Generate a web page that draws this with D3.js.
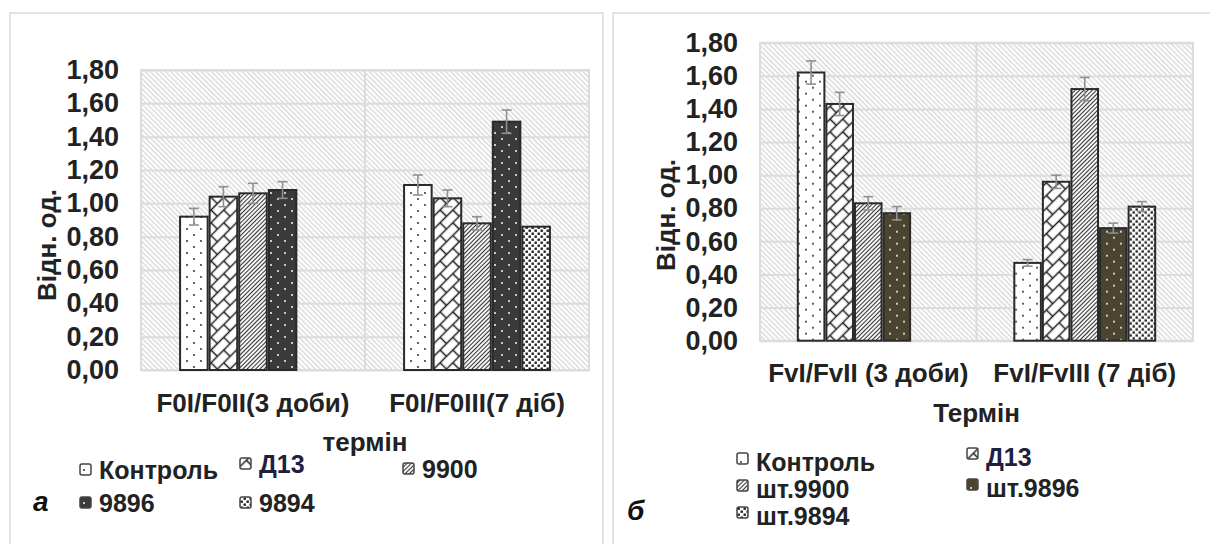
<!DOCTYPE html>
<html>
<head>
<meta charset="utf-8">
<script src="https://cdn.jsdelivr.net/npm/d3@7"></script>
<style>
  body { margin: 0; background: #fff; }
  svg { display: block; font-family: "Liberation Sans", Arial, sans-serif; font-weight: bold; }
</style>
</head>
<body>
<svg width="1210" height="544"></svg>
<script>
// ---- panel а
var categoriesA = ["F0I/F0II(3 доби)", "F0I/F0III(7 діб)"];
var seriesA = ["Контроль", "Д13", "9900", "9896", "9894"];
var controlA = [0.92, 1.11];
var d13A = [1.04, 1.03];
var s9900A = [1.06, 0.88];
var s9896A = [1.08, 1.49];
var s9894A = [null, 0.86];
var errControlA = [0.05, 0.06];
var errD13A = [0.06, 0.05];
var err9900A = [0.06, 0.04];
var err9896A = [0.05, 0.07];
var err9894A = [null, null];

// ---- panel б
var categoriesB = ["FvI/FvII (3 доби)", "FvI/FvIII (7 діб)"];
var seriesB = ["Контроль", "Д13", "шт.9900", "шт.9896", "шт.9894"];
var controlB = [1.62, 0.47];
var d13B = [1.43, 0.96];
var s9900B = [0.83, 1.52];
var s9896B = [0.77, 0.68];
var s9894B = [null, 0.81];
var errControlB = [0.07, 0.02];
var errD13B = [0.07, 0.04];
var err9900B = [0.04, 0.07];
var err9896B = [0.04, 0.03];
var err9894B = [null, 0.03];

var yTicks = [0, 0.2, 0.4, 0.6, 0.8, 1.0, 1.2, 1.4, 1.6, 1.8];

var locale = d3.formatLocale({ decimal: ",", thousands: " ", grouping: [3], currency: ["", ""] });
var fmt = locale.format(".2f");

var svg = d3.select("svg");
var defs = svg.append("defs");

// plot area background hatch
var bg = defs.append("pattern").attr("id", "bgHatch")
  .attr("patternUnits", "userSpaceOnUse").attr("width", 3.6).attr("height", 3.6)
  .attr("patternTransform", "rotate(-45)");
bg.append("rect").attr("width", 3.6).attr("height", 3.6).attr("fill", "#fff");
bg.append("line").attr("x1", 1.8).attr("y1", 0).attr("x2", 1.8).attr("y2", 3.6)
  .attr("stroke", "#c9c9c9").attr("stroke-width", 1);

// dotted (Контроль / 9896)
function dotPattern(id, back, dot) {
  var p = defs.append("pattern").attr("id", id)
    .attr("patternUnits", "userSpaceOnUse").attr("width", 14).attr("height", 12);
  p.append("rect").attr("width", 14).attr("height", 12).attr("fill", back);
  p.append("rect").attr("x", 3).attr("y", 2).attr("width", 2).attr("height", 2).attr("fill", dot);
  p.append("rect").attr("x", 10).attr("y", 8).attr("width", 2).attr("height", 2).attr("fill", dot);
}
dotPattern("dotsWhite", "#fff", "#666");
dotPattern("dotsGray", "#3a3a3a", "#c8c8c8");
dotPattern("dotsOlive", "#4a4430", "#c8c8c8");

// diagonal brick (Д13)
var brick = defs.append("pattern").attr("id", "brick")
  .attr("patternUnits", "userSpaceOnUse").attr("width", 18).attr("height", 18)
  .attr("patternTransform", "rotate(-45)");
brick.append("rect").attr("width", 18).attr("height", 18).attr("fill", "#fff");
brick.append("path")
  .attr("d", "M0,4.5H18M0,13.5H18M4.5,4.5V13.5M13.5,13.5V18M13.5,0V4.5")
  .attr("stroke", "#222").attr("stroke-width", 1.5).attr("fill", "none");

// dense upward diagonal (9900)
var diag = defs.append("pattern").attr("id", "diag")
  .attr("patternUnits", "userSpaceOnUse").attr("width", 3).attr("height", 3)
  .attr("patternTransform", "rotate(45)");
diag.append("rect").attr("width", 3).attr("height", 3).attr("fill", "#fff");
diag.append("line").attr("x1", 1.5).attr("y1", 0).attr("x2", 1.5).attr("y2", 3)
  .attr("stroke", "#333").attr("stroke-width", 1.1);

// confetti (9894)
var conf = defs.append("pattern").attr("id", "confetti")
  .attr("patternUnits", "userSpaceOnUse").attr("width", 6).attr("height", 6);
conf.append("rect").attr("width", 6).attr("height", 6).attr("fill", "#fff");
conf.append("rect").attr("x", 0.5).attr("y", 0.5).attr("width", 2.4).attr("height", 2.4).attr("fill", "#222");
conf.append("rect").attr("x", 3.5).attr("y", 3.5).attr("width", 2.4).attr("height", 2.4).attr("fill", "#222");

function drawPanel(cfg) {
  // panel frame
  svg.append("rect")
    .attr("x", cfg.frame[0]).attr("y", cfg.frame[1])
    .attr("width", cfg.frame[2]).attr("height", cfg.frame[3])
    .attr("fill", "none").attr("stroke", "#d9d9d9").attr("stroke-width", 1.5);

  var w = cfg.right - cfg.left, h = cfg.bottom - cfg.top;
  var g = svg.append("g").attr("transform", "translate(" + cfg.left + "," + cfg.top + ")");

  var x0 = d3.scaleBand().domain(cfg.categories).range([0, w]).paddingInner(0.34).paddingOuter(0.17);
  var x1 = d3.scaleBand().domain(cfg.series).range([0, x0.bandwidth()]);
  var y = d3.scaleLinear().domain([0, 1.8]).range([h, 0]);

  g.append("rect").attr("width", w).attr("height", h).attr("fill", "url(#bgHatch)");

  // horizontal gridlines
  g.append("g")
    .call(d3.axisLeft(y).tickValues(yTicks).tickSize(-w).tickFormat(""))
    .call(function (s) {
      s.select(".domain").remove();
      s.selectAll("line").attr("stroke", "#dcdcdc").attr("stroke-width", 2);
    });
  // vertical gridline between categories
  g.append("line")
    .attr("x1", w / 2).attr("x2", w / 2).attr("y1", 0).attr("y2", h)
    .attr("stroke", "#dcdcdc").attr("stroke-width", 2);
  g.append("rect").attr("width", w).attr("height", h)
    .attr("fill", "none").attr("stroke", "#dcdcdc").attr("stroke-width", 2);

  // y tick labels
  g.append("g")
    .call(d3.axisLeft(y).tickValues(yTicks).tickSize(0).tickPadding(cfg.tickPad).tickFormat(fmt))
    .call(function (s) {
      s.select(".domain").remove();
      s.selectAll("text").attr("font-size", 27).attr("font-family", "Liberation Sans, Arial, sans-serif")
        .attr("font-weight", "bold").attr("fill", "#222");
    });

  // bars
  var rows = [];
  cfg.categories.forEach(function (c, ci) {
    cfg.series.forEach(function (s, si) {
      if (cfg.values[si][ci] != null)
        rows.push({ cat: c, ser: s, si: si, v: cfg.values[si][ci], e: cfg.errors[si][ci] });
    });
  });

  g.selectAll(".bar").data(rows).enter().append("rect")
    .attr("class", "bar")
    .attr("x", function (d) { return x0(d.cat) + x1(d.ser) + 1; })
    .attr("y", function (d) { return y(d.v); })
    .attr("width", x1.bandwidth() - 2)
    .attr("height", function (d) { return h - y(d.v); })
    .attr("fill", function (d) { return cfg.fills[d.si]; })
    .attr("stroke", "#2a2a2a").attr("stroke-width", 2);

  // error bars
  var eb = g.selectAll(".err").data(rows.filter(function (d) { return d.e != null; }))
    .enter().append("g").attr("class", "err")
    .attr("stroke", "#909090").attr("stroke-width", 1.6);
  function cx(d) { return x0(d.cat) + x1(d.ser) + x1.bandwidth() / 2; }
  eb.append("line")
    .attr("x1", cx).attr("x2", cx)
    .attr("y1", function (d) { return y(d.v + d.e); })
    .attr("y2", function (d) { return y(d.v - d.e); });
  eb.append("line")
    .attr("x1", function (d) { return cx(d) - 5; }).attr("x2", function (d) { return cx(d) + 5; })
    .attr("y1", function (d) { return y(d.v + d.e); }).attr("y2", function (d) { return y(d.v + d.e); });
  eb.append("line")
    .attr("x1", function (d) { return cx(d) - 5; }).attr("x2", function (d) { return cx(d) + 5; })
    .attr("y1", function (d) { return y(d.v - d.e); }).attr("y2", function (d) { return y(d.v - d.e); });

  // category labels
  g.selectAll(".cat").data(cfg.categories).enter().append("text")
    .attr("class", "cat")
    .attr("x", function (d) { return x0(d) + x0.bandwidth() / 2; })
    .attr("y", cfg.catY - cfg.top)
    .attr("text-anchor", "middle").attr("font-size", 26).attr("fill", "#222")
    .text(function (d) { return d; });

  // axis titles
  g.append("text")
    .attr("x", w / 2).attr("y", cfg.xTitleY - cfg.top)
    .attr("text-anchor", "middle").attr("font-size", 26).attr("fill", "#222")
    .text(cfg.xTitle);
  svg.append("text")
    .attr("transform", "translate(" + cfg.yTitle[0] + "," + cfg.yTitle[1] + ") rotate(-90)")
    .attr("text-anchor", "middle").attr("font-size", 26).attr("fill", "#222")
    .text("Відн. од.");

  // legend
  var lg = svg.selectAll(".lg" + cfg.id).data(cfg.series).enter().append("g")
    .attr("transform", function (d, i) { return "translate(" + cfg.legend[i][0] + "," + cfg.legend[i][1] + ")"; });
  lg.append("rect")
    .attr("x", 0).attr("y", cfg.swatchDy).attr("width", 11).attr("height", 11).attr("rx", 2)
    .attr("fill", function (d, i) { return cfg.fills[i]; })
    .attr("stroke", "#444").attr("stroke-width", 1.5);
  lg.append("text")
    .attr("x", 19).attr("y", 0).attr("font-size", 25)
    .attr("fill", function (d) { return d == "Д13" ? "#1e2040" : "#222"; })
    .text(function (d) { return d; });

  svg.append("text")
    .attr("x", cfg.letter[0]).attr("y", cfg.letter[1])
    .attr("font-size", 28).attr("font-style", "italic").attr("fill", "#111")
    .text(cfg.letterText);
}

drawPanel({
  id: "A",
  frame: [10, 13, 593, 545],
  left: 141, right: 589, top: 70, bottom: 370,
  tickPad: 22,
  categories: categoriesA, series: seriesA,
  values: [controlA, d13A, s9900A, s9896A, s9894A],
  errors: [errControlA, errD13A, err9900A, err9896A, err9894A],
  fills: ["url(#dotsWhite)", "url(#brick)", "url(#diag)", "url(#dotsGray)", "url(#confetti)"],
  catY: 412, xTitle: "термін", xTitleY: 451,
  yTitle: [56, 245],
  legend: [[80, 479], [240, 473], [403, 478], [80, 512], [240, 512]],
  swatchDy: -15,
  letter: [33, 511], letterText: "а"
});

drawPanel({
  id: "B",
  frame: [613, 13, 610, 545],
  left: 760, right: 1193, top: 42.7, bottom: 340.7,
  tickPad: 22,
  categories: categoriesB, series: seriesB,
  values: [controlB, d13B, s9900B, s9896B, s9894B],
  errors: [errControlB, errD13B, err9900B, err9896B, err9894B],
  fills: ["url(#dotsWhite)", "url(#brick)", "url(#diag)", "url(#dotsOlive)", "url(#confetti)"],
  catY: 382, xTitle: "Термін", xTitleY: 422,
  yTitle: [675, 215],
  legend: [[737, 471], [967, 466], [737, 498], [967, 497], [737, 525]],
  swatchDy: -18,
  letter: [627, 520], letterText: "б"
});
</script>
</body>
</html>
